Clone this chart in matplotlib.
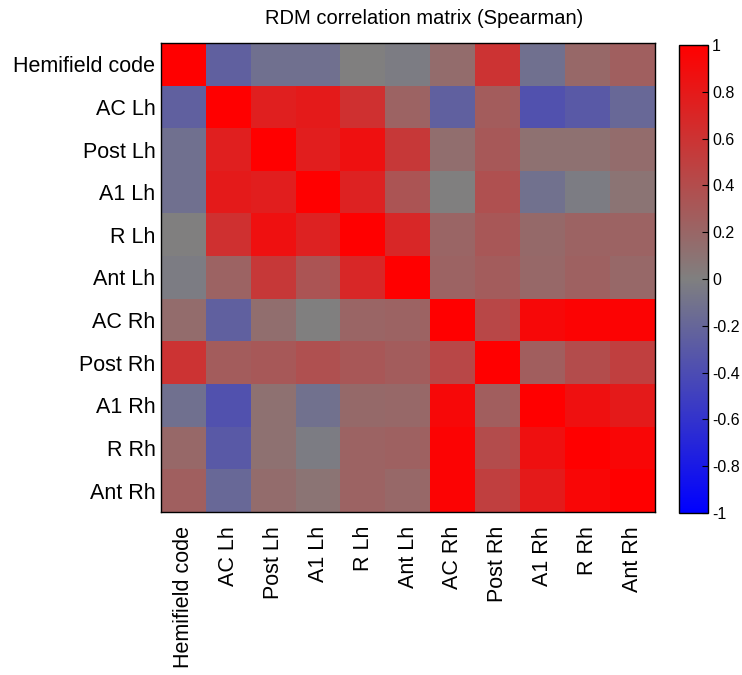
import numpy as np
import matplotlib
matplotlib.use("Agg")
import matplotlib.pyplot as plt
from matplotlib.colors import LinearSegmentedColormap

plt.rcParams['font.family'] = ['Liberation Sans', 'DejaVu Sans']

# Region labels.
labels = ["Hemifield code", "AC Lh", "Post Lh", "A1 Lh", "R Lh", "Ant Lh",
          "AC Rh", "Post Rh", "A1 Rh", "R Rh", "Ant Rh"]

# Spearman correlations (upper triangle, matrix is symmetric).
row_hemi = [1.00, -0.25, -0.12, -0.12, 0.00, -0.03, 0.15, 0.60, -0.12, 0.18, 0.25]
row_acl = [0.75, 0.79, 0.62, 0.22, -0.25, 0.28, -0.36, -0.30, -0.18]
row_postl = [0.76, 0.87, 0.55, 0.14, 0.31, 0.11, 0.11, 0.15]
row_a1l = [0.73, 0.34, 0.00, 0.37, -0.11, -0.03, 0.09]
row_rl = [0.69, 0.21, 0.32, 0.17, 0.22, 0.22]
row_antl = [0.22, 0.28, 0.18, 0.24, 0.18]
row_acr = [0.44, 0.93, 0.97, 0.97]
row_postr = [0.26, 0.40, 0.50]
row_a1r = [0.87, 0.79]
row_rr = [0.95]

upper = [row_hemi[1:], row_acl, row_postl, row_a1l, row_rl, row_antl,
         row_acr, row_postr, row_a1r, row_rr]

# Build the full symmetric matrix.
n = len(labels)
M = np.eye(n)
for i, r in enumerate(upper):
    M[i, i + 1:] = r
    M[i + 1:, i] = r

# Blue - gray - red colormap.
cmap = LinearSegmentedColormap.from_list(
    "bgr", [(0, 0, 1), (0.5, 0.5, 0.5), (1, 0, 0)], N=256)

fig = plt.figure(figsize=(7.42, 6.75), dpi=100)
ax = fig.add_axes([161 / 742, 1 - 512 / 675, 494 / 742, 469 / 675])
im = ax.imshow(M, cmap=cmap, vmin=-1, vmax=1, aspect="auto", interpolation="nearest")

ax.set_xticks(range(n))
ax.set_yticks(range(n))
ax.set_xticklabels(labels, rotation=90, fontsize=15.5)
ax.set_yticklabels(labels, fontsize=15.5)
ax.tick_params(length=0)
ax.tick_params(axis="y", pad=4)
ax.tick_params(axis="x", pad=10)
for s in ax.spines.values():
    s.set_linewidth(1.0)

# Title.
fig.text(424 / 742, 1 - 18 / 675, "RDM correlation matrix (Spearman)",
         fontsize=14.5, ha="center", va="center")

# Colorbar.
cax = fig.add_axes([679 / 742, 1 - 513 / 675, 29 / 742, 468 / 675])
cb = fig.colorbar(im, cax=cax, ticks=np.linspace(-1, 1, 11))
cb.ax.set_yticklabels(["-1", "-0.8", "-0.6", "-0.4", "-0.2", "0",
                       "0.2", "0.4", "0.6", "0.8", "1"])
cb.ax.tick_params(direction="in", length=4, labelsize=11.5, pad=3)
cb.outline.set_linewidth(1.0)

fig.savefig("out.png", dpi=100)
